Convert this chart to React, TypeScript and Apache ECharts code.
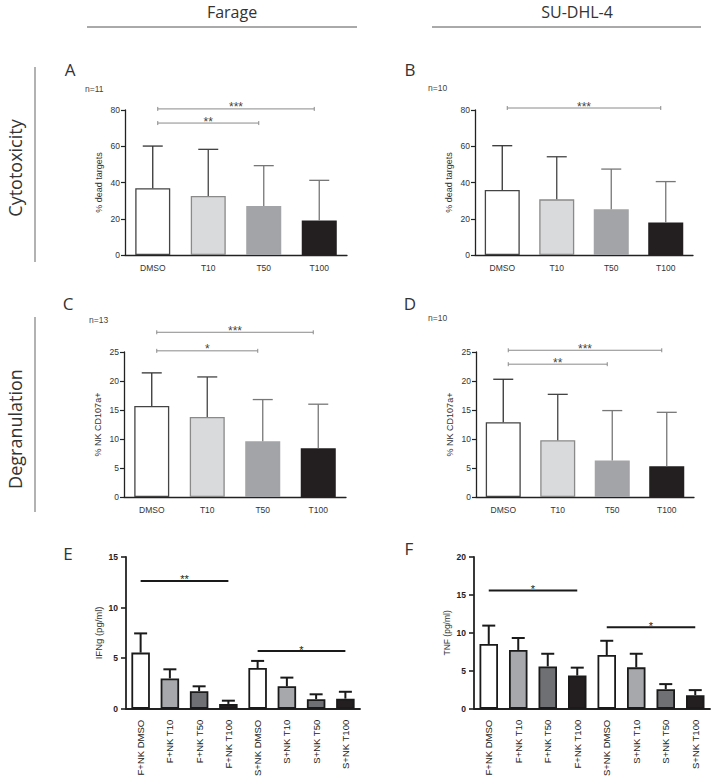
import React, { useEffect, useRef } from 'react';
import * as echarts from 'echarts';

// ---------- data ----------
const cellLines = ['Farage', 'SU-DHL-4'];
const rowLabels = ['Cytotoxicity', 'Degranulation'];
const panelLetters = ['A', 'B', 'C', 'D', 'E', 'F'];
const nLabels = ['n=11', 'n=10', 'n=13', 'n=10'];
const treatments = ['DMSO', 'T10', 'T50', 'T100'];
const cytokineCats = ['F+NK DMSO', 'F+NK T10', 'F+NK T50', 'F+NK T100', 'S+NK DMSO', 'S+NK T10', 'S+NK T50', 'S+NK T100'];

// % dead targets (mean, mean + SD)
const aMean = [36.8, 32.6, 27.0, 19.1];
const aTop = [60.1, 58.3, 49.3, 41.2];
const bMean = [35.9, 30.7, 25.2, 18.0];
const bTop = [60.3, 54.2, 47.4, 40.5];
// % NK CD107a+
const cMean = [15.7, 13.8, 9.6, 8.4];
const cTop = [21.4, 20.7, 16.8, 16.0];
const dMean = [12.9, 9.8, 6.3, 5.3];
const dTop = [20.3, 17.7, 14.9, 14.6];
// IFNg (pg/ml)
const eMean = [5.55, 3.0, 1.74, 0.48, 4.03, 2.22, 0.95, 1.0];
const eTop = [7.45, 3.9, 2.22, 0.8, 4.73, 3.08, 1.43, 1.68];
// TNF (pg/ml)
const fMean = [8.54, 7.75, 5.58, 4.38, 7.08, 5.46, 2.58, 1.79];
const fTop = [10.96, 9.33, 7.25, 5.42, 8.96, 7.25, 3.25, 2.46];

// significance brackets: from category, to category, height (data units), label
const aSig = [{ from: 0, to: 3, y: 80.6, label: '***' }, { from: 0, to: 2, y: 72.8, label: '**' }];
const bSig = [{ from: 0, to: 3, y: 81.1, label: '***' }];
const cSig = [{ from: 0, to: 3, y: 28.4, label: '***' }, { from: 0, to: 2, y: 25.2, label: '*' }];
const dSig = [{ from: 0, to: 3, y: 25.3, label: '***' }, { from: 0, to: 2, y: 22.9, label: '**' }];
const eSig = [{ from: 0, to: 3, y: 12.63, label: '**' }, { from: 4, to: 7, y: 5.7, label: '*' }];
const fSig = [{ from: 0, to: 3, y: 15.6, label: '*' }, { from: 4, to: 7, y: 10.75, label: '*' }];

// ---------- styles / layout ----------
const FONT = 'Liberation Sans';
const flowFill = ['#ffffff', '#d9dadb', '#a3a4a7', '#231f20'];
const flowBorder = ['#444444', '#8a8a8a', '#a3a4a7', '#231f20'];
const flowErr = ['#333333', '#444444', '#777777', '#777777'];
const elisaFill = ['#ffffff', '#a6a8ab', '#6f7073', '#231f20'];

type Panel = {
  kind: 'flow' | 'elisa';
  grid: { left: number; top: number; width: number; height: number };
  cats: string[];
  mean: number[];
  top: number[];
  sig: { from: number; to: number; y: number; label: string }[];
  yMax: number;
  yInterval: number;
  yName: string;
  nameSize: number;
};

const panels: Panel[] = [
  { kind: 'flow', grid: { left: 125, top: 110, width: 222, height: 145 }, cats: treatments, mean: aMean, top: aTop, sig: aSig, yMax: 80, yInterval: 20, yName: '% dead targets', nameSize: 9 },
  { kind: 'flow', grid: { left: 475, top: 110, width: 218, height: 145 }, cats: treatments, mean: bMean, top: bTop, sig: bSig, yMax: 80, yInterval: 20, yName: '% dead targets', nameSize: 9 },
  { kind: 'flow', grid: { left: 124, top: 352, width: 222, height: 145 }, cats: treatments, mean: cMean, top: cTop, sig: cSig, yMax: 25, yInterval: 5, yName: '% NK CD107a+', nameSize: 9 },
  { kind: 'flow', grid: { left: 476, top: 352, width: 218, height: 145 }, cats: treatments, mean: dMean, top: dTop, sig: dSig, yMax: 25, yInterval: 5, yName: '% NK CD107a+', nameSize: 9 },
  { kind: 'elisa', grid: { left: 126, top: 557, width: 234, height: 158 }, cats: cytokineCats, mean: eMean, top: eTop, sig: eSig, yMax: 15, yInterval: 5, yName: 'IFNg (pg/ml)', nameSize: 9.5 },
  { kind: 'elisa', grid: { left: 474, top: 557, width: 236, height: 160 }, cats: cytokineCats, mean: fMean, top: fTop, sig: fSig, yMax: 20, yInterval: 5, yName: 'TNF (pg/ml)', nameSize: 8.5 },
];

function buildOption() {
  const grid: any[] = [];
  const xAxis: any[] = [];
  const yAxis: any[] = [];
  const series: any[] = [];

  panels.forEach((p, i) => {
    const flow = p.kind === 'flow';
    grid.push({ ...p.grid, containLabel: false });
    xAxis.push({
      type: 'category',
      gridIndex: i,
      data: p.cats,
      axisLine: { lineStyle: { color: '#222', width: flow ? 1.3 : 1.8 } },
      axisTick: { alignWithLabel: true, length: flow ? 4 : 5, lineStyle: { color: '#222', width: flow ? 1.2 : 1.6 } },
      axisLabel: flow
        ? { fontSize: 8.5, color: '#333', margin: 8, fontFamily: FONT, interval: 0 }
        : { fontSize: 9.5, color: '#222', margin: 11, rotate: 90, fontFamily: FONT, interval: 0 },
    });
    yAxis.push({
      type: 'value',
      gridIndex: i,
      min: 0,
      max: p.yMax,
      interval: p.yInterval,
      splitLine: { show: false },
      axisLine: { show: true, lineStyle: { color: '#222', width: flow ? 1.3 : 1.8 } },
      axisTick: { show: true, length: flow ? 4 : 5, lineStyle: { color: '#222', width: flow ? 1.2 : 1.6 } },
      axisLabel: flow
        ? { fontSize: 8.5, color: '#333', margin: 5, fontFamily: FONT }
        : { fontSize: 8.5, color: '#222', margin: 8, fontWeight: 'bold', fontFamily: FONT },
      name: p.yName,
      nameLocation: 'middle',
      nameGap: flow ? 22 : 23,
      nameTextStyle: { fontSize: p.nameSize, color: '#333', fontFamily: FONT },
    });

    series.push({
      type: 'bar',
      xAxisIndex: i,
      yAxisIndex: i,
      barWidth: flow ? 35 : 18.5,
      data: p.mean.map((v, j) => ({
        value: v,
        itemStyle: flow
          ? { color: flowFill[j % 4], borderColor: flowBorder[j % 4], borderWidth: 1.3 }
          : { color: elisaFill[j % 4], borderColor: '#1a1a1a', borderWidth: 1.8 },
      })),
    });

    const capHalf = flow ? 10 : 6.5;
    series.push({
      type: 'custom',
      xAxisIndex: i,
      yAxisIndex: i,
      encode: { x: 0, y: [1, 2] },
      data: p.mean.map((m, j) => [j, m, p.top[j]]),
      renderItem: (params: any, api: any) => {
        const idx = api.value(0);
        const p0 = api.coord([idx, api.value(1)]);
        const p1 = api.coord([idx, api.value(2)]);
        const color = flow ? flowErr[idx % 4] : '#1a1a1a';
        const lw = flow ? 1.3 : 2;
        return {
          type: 'group',
          children: [
            { type: 'line', shape: { x1: p0[0], y1: p0[1], x2: p1[0], y2: p1[1] }, style: { stroke: color, lineWidth: lw } },
            { type: 'line', shape: { x1: p1[0] - capHalf, y1: p1[1], x2: p1[0] + capHalf, y2: p1[1] }, style: { stroke: color, lineWidth: lw } },
          ],
        };
      },
      z: 3,
    });

    series.push({
      type: 'custom',
      xAxisIndex: i,
      yAxisIndex: i,
      clip: false,
      encode: { x: [0, 1], y: 2 },
      data: p.sig.map((s) => [s.from, s.to, s.y]),
      renderItem: (params: any, api: any) => {
        const s = p.sig[params.dataIndex];
        const a = api.coord([api.value(0), api.value(2)]);
        const b = api.coord([api.value(1), api.value(2)]);
        const inset = flow ? 5 : 0;
        const x0 = a[0] + inset;
        const x1 = b[0] - inset;
        const y = a[1];
        const stroke = flow ? '#8a8a8a' : '#1a1a1a';
        const children: any[] = [
          { type: 'line', shape: { x1: x0, y1: y, x2: x1, y2: y }, style: { stroke, lineWidth: flow ? 1 : 2 } },
        ];
        if (flow) {
          children.push({ type: 'line', shape: { x1: x0, y1: y - 2, x2: x0, y2: y + 2 }, style: { stroke, lineWidth: 1 } });
          children.push({ type: 'line', shape: { x1: x1, y1: y - 2, x2: x1, y2: y + 2 }, style: { stroke, lineWidth: 1 } });
        }
        children.push({
          type: 'text',
          x: (x0 + x1) / 2,
          y: y - 1.5,
          style: {
            text: s.label,
            align: 'center',
            verticalAlign: 'middle',
            fontSize: flow ? 12 : 11,
            fontFamily: FONT,
            fill: flow ? '#444' : '#1a1a1a',
          },
        });
        return { type: 'group', children };
      },
      z: 4,
    });
  });

  const textEl = (text: string, x: number, y: number, fontSize: number, extra: any = {}) => ({
    type: 'text',
    x,
    y,
    ...extra,
    style: { text, fontSize, fontFamily: 'Open Sans', fill: '#333', align: 'center', verticalAlign: 'middle', ...(extra.style || {}) },
  });

  const graphic: any[] = [
    textEl(cellLines[0], 232, 12, 16),
    textEl(cellLines[1], 577, 12, 16),
    { type: 'line', shape: { x1: 87, y1: 27, x2: 357, y2: 27 }, style: { stroke: '#555', lineWidth: 1 } },
    { type: 'line', shape: { x1: 432, y1: 27, x2: 701, y2: 27 }, style: { stroke: '#555', lineWidth: 1 } },
    { type: 'line', shape: { x1: 35, y1: 67, x2: 35, y2: 262 }, style: { stroke: '#999', lineWidth: 1.5 } },
    { type: 'line', shape: { x1: 35, y1: 317, x2: 35, y2: 512 }, style: { stroke: '#999', lineWidth: 1.5 } },
    textEl(rowLabels[0], 15, 168, 18, { rotation: Math.PI / 2 }),
    textEl(rowLabels[1], 15, 429, 18, { rotation: Math.PI / 2 }),
    textEl(panelLetters[0], 70, 69, 17),
    textEl(panelLetters[1], 410, 69, 17),
    textEl(panelLetters[2], 68, 303, 17),
    textEl(panelLetters[3], 410, 303, 17),
    textEl(panelLetters[4], 68, 553, 17),
    textEl(panelLetters[5], 409, 548, 17),
  ];
  const nPos = [[85, 89], [428, 88], [89, 320], [428, 318]];
  nLabels.forEach((t, k) => {
    graphic.push({
      type: 'text',
      x: nPos[k][0],
      y: nPos[k][1],
      style: { text: t, fontSize: 8.5, fontFamily: FONT, fill: '#444', align: 'left', verticalAlign: 'middle' },
    });
  });

  return {
    animation: false,
    backgroundColor: '#ffffff',
    textStyle: { fontFamily: FONT },
    grid,
    xAxis,
    yAxis,
    series,
    graphic,
  };
}

export default function App() {
  const ref = useRef<HTMLDivElement>(null);
  useEffect(() => {
    if (!ref.current) return;
    const chart = echarts.init(ref.current, undefined, { renderer: 'svg' });
    chart.setOption(buildOption() as any);
    return () => chart.dispose();
  }, []);
  return <div ref={ref} style={{ position: 'absolute', left: 0, top: 0, width: 716, height: 779 }} />;
}
